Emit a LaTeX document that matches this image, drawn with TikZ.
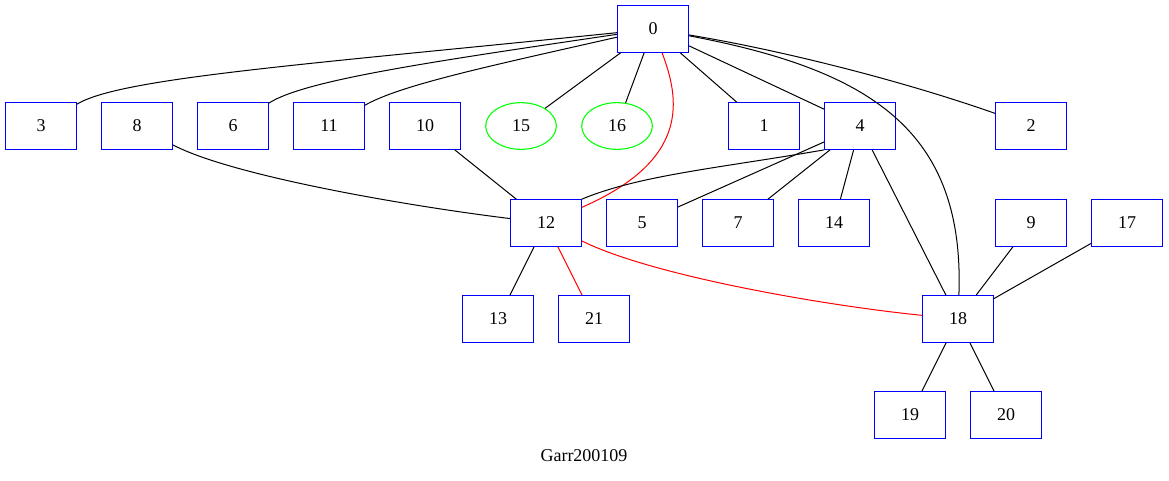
\documentclass[tikz,border=0pt]{standalone}
\usepackage{fontspec}
\setmainfont{Liberation Serif}
\usetikzlibrary{shapes.geometric}
\definecolor{boxblue}{RGB}{0,0,255}
\definecolor{ovalgreen}{RGB}{0,255,0}
\definecolor{linkred}{RGB}{255,0,0}

\begin{document}
\begin{tikzpicture}[
  x=0.75pt, y=-0.75pt,
  every node/.style={font=\fontsize{13.5}{16}\selectfont},
  box/.style={draw=boxblue, line width=0.8pt, rectangle, minimum width=53pt,
              minimum height=35pt, inner sep=0pt},
  oval/.style={draw=ovalgreen, line width=0.8pt, ellipse, minimum width=53pt,
               minimum height=35pt, inner sep=0pt},
  link/.style={black, line width=0.75pt},
  redlink/.style={linkred, line width=0.75pt}
]
\useasboundingbox (0,0) rectangle (1169,481);
% row 1
\node[box] (n0) at (653,29) {0};
% row 2
\node[box] (n3) at (41,126) {3};
\node[box] (n8) at (137,126) {8};
\node[box] (n6) at (233,126) {6};
\node[box] (n11) at (329,126) {11};
\node[box] (n10) at (425,126) {10};
\node[oval] (n15) at (521,126) {15};
\node[oval] (n16) at (617,126) {16};
\node[box] (n1) at (764,126) {1};
\node[box] (n4) at (860,126) {4};
\node[box] (n2) at (1031,126) {2};
% row 3
\node[box] (n12) at (546,223) {12};
\node[box] (n5) at (642,223) {5};
\node[box] (n7) at (738,223) {7};
\node[box] (n14) at (834,223) {14};
\node[box] (n9) at (1031,223) {9};
\node[box] (n17) at (1127,223) {17};
% row 4
\node[box] (n13) at (498,319) {13};
\node[box] (n21) at (594,319) {21};
\node[box] (n18) at (958,319) {18};
% row 5
\node[box] (n19) at (910,415) {19};
\node[box] (n20) at (1006,415) {20};
\node (ttl) at (584,456) {Garr200109};
% edges from 0
\draw[link] (n0) .. controls (300,65) and (120,78) .. (n3);
\draw[link] (n0) .. controls (430,62) and (305,80) .. (n6);
\draw[link] (n0) .. controls (490,66) and (400,85) .. (n11);
\draw[link] (n0) -- (n15);
\draw[link] (n0) -- (n16);
\draw[redlink] (n0) .. controls (680,100) and (690,160) .. (n12);
\draw[link] (n0) -- (n1);
\draw[link] (n0) -- (n4);
\draw[link] (n0) .. controls (870,70) and (965,130) .. (n18);
\draw[link] (n0) .. controls (780,50) and (900,80) .. (n2);
% edges into 12
\draw[link] (n8) .. controls (230,175) and (400,205) .. (n12);
\draw[link] (n10) -- (n12);
\draw[link] (n4.south west) .. controls (720,168) and (640,175) .. (n12.north east);
% edges from 4
\draw[link] (n4) -- (n5);
\draw[link] (n4) -- (n7);
\draw[link] (n4) -- (n14);
\draw[link] (n4) -- (n18);
% edges from 12
\draw[link] (n12) -- (n13);
\draw[redlink] (n12) -- (n21);
\draw[redlink] (n12) .. controls (650,275) and (820,305) .. (n18);
% edges at 18
\draw[link] (n9) -- (n18);
\draw[link] (n17) -- (n18);
\draw[link] (n18) -- (n19);
\draw[link] (n18) -- (n20);
\end{tikzpicture}
\end{document}
